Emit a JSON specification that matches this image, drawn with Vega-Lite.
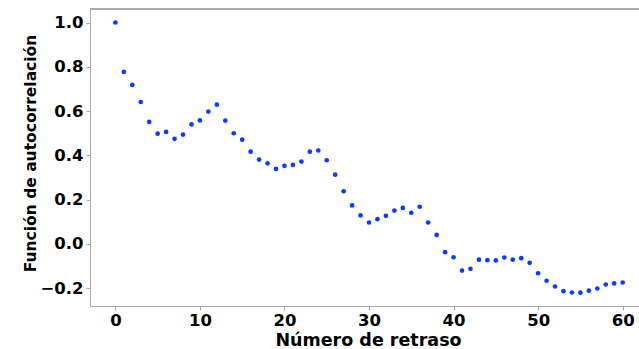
{
  "$schema": "https://vega.github.io/schema/vega-lite/v6.json",
  "autosize": {"type": "none"},
  "width": 549,
  "height": 297,
  "padding": {"left": 90, "top": 9, "right": 0, "bottom": 43},
  "background": "white",
  "config": {
    "view": {"stroke": null},
    "axis": {
      "grid": false,
      "domainColor": "#aaaaaa",
      "tickColor": "#aaaaaa",
      "tickSize": 4,
      "labelFont": "DejaVu Sans",
      "labelFontWeight": "bold",
      "labelFontSize": 16.5,
      "labelColor": "#000000",
      "titleFont": "DejaVu Sans",
      "titleFontWeight": "bold",
      "titleColor": "#000000"
    }
  },
  "data": {
    "values": [
      {"lag": 0, "acf": 1.0},
      {"lag": 1, "acf": 0.777},
      {"lag": 2, "acf": 0.718},
      {"lag": 3, "acf": 0.641},
      {"lag": 4, "acf": 0.551},
      {"lag": 5, "acf": 0.498},
      {"lag": 6, "acf": 0.506},
      {"lag": 7, "acf": 0.475},
      {"lag": 8, "acf": 0.494},
      {"lag": 9, "acf": 0.54},
      {"lag": 10, "acf": 0.558},
      {"lag": 11, "acf": 0.598},
      {"lag": 12, "acf": 0.629},
      {"lag": 13, "acf": 0.557},
      {"lag": 14, "acf": 0.5},
      {"lag": 15, "acf": 0.471},
      {"lag": 16, "acf": 0.417},
      {"lag": 17, "acf": 0.381},
      {"lag": 18, "acf": 0.364},
      {"lag": 19, "acf": 0.339},
      {"lag": 20, "acf": 0.353},
      {"lag": 21, "acf": 0.357},
      {"lag": 22, "acf": 0.372},
      {"lag": 23, "acf": 0.417},
      {"lag": 24, "acf": 0.422},
      {"lag": 25, "acf": 0.378},
      {"lag": 26, "acf": 0.313},
      {"lag": 27, "acf": 0.238},
      {"lag": 28, "acf": 0.174},
      {"lag": 29, "acf": 0.129},
      {"lag": 30, "acf": 0.097},
      {"lag": 31, "acf": 0.112},
      {"lag": 32, "acf": 0.127},
      {"lag": 33, "acf": 0.151},
      {"lag": 34, "acf": 0.163},
      {"lag": 35, "acf": 0.141},
      {"lag": 36, "acf": 0.168},
      {"lag": 37, "acf": 0.097},
      {"lag": 38, "acf": 0.041},
      {"lag": 39, "acf": -0.037},
      {"lag": 40, "acf": -0.06},
      {"lag": 41, "acf": -0.12},
      {"lag": 42, "acf": -0.112},
      {"lag": 43, "acf": -0.071},
      {"lag": 44, "acf": -0.073},
      {"lag": 45, "acf": -0.074},
      {"lag": 46, "acf": -0.061},
      {"lag": 47, "acf": -0.071},
      {"lag": 48, "acf": -0.064},
      {"lag": 49, "acf": -0.085},
      {"lag": 50, "acf": -0.132},
      {"lag": 51, "acf": -0.166},
      {"lag": 52, "acf": -0.192},
      {"lag": 53, "acf": -0.213},
      {"lag": 54, "acf": -0.219},
      {"lag": 55, "acf": -0.22},
      {"lag": 56, "acf": -0.211},
      {"lag": 57, "acf": -0.201},
      {"lag": 58, "acf": -0.183},
      {"lag": 59, "acf": -0.178},
      {"lag": 60, "acf": -0.174}
    ]
  },
  "layer": [
    {
      "mark": {"type": "rule", "color": "#aaaaaa", "strokeWidth": 1},
      "encoding": {
        "y": {"datum": 1.061, "type": "quantitative"}
      }
    },
    {
      "mark": {"type": "circle", "size": 22, "color": "#0a3cff", "opacity": 1},
      "encoding": {
        "x": {
          "field": "lag",
          "type": "quantitative",
          "scale": {"domain": [-3, 61.93], "nice": false, "zero": false},
          "axis": {
            "values": [0, 10, 20, 30, 40, 50, 60],
            "format": "d",
            "title": "Número de retraso",
            "labelPadding": 2,
            "titleFontSize": 17.5,
            "titleBaseline": "alphabetic",
            "titleX": 278,
            "titleY": 39,
            "titleAlign": "center"
          }
        },
        "y": {
          "field": "acf",
          "type": "quantitative",
          "scale": {"domain": [-0.28, 1.061], "nice": false, "zero": false},
          "axis": {
            "values": [-0.2, 0, 0.2, 0.4, 0.6, 0.8, 1.0],
            "format": ".1f",
            "title": "Función de autocorrelación",
            "labelPadding": 3,
            "titleFontSize": 15.5,
            "titleBaseline": "alphabetic",
            "titleX": -55,
            "titleY": 144,
            "titleAlign": "center",
            "titleAngle": -90
          }
        }
      }
    }
  ]
}
